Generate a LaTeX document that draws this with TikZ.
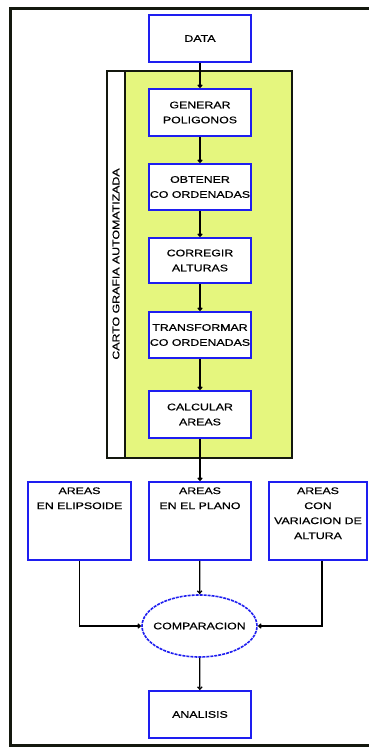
\documentclass[tikz,border=0pt]{standalone}
\usepackage{fontspec}
\usetikzlibrary{arrows.meta,shapes.geometric}
\newfontfamily\dfont[FakeStretch=1.3,FakeBold=0.6]{Liberation Sans}
\definecolor{boxblue}{RGB}{30,30,240}
\definecolor{poolgreen}{RGB}{229,246,126}
\definecolor{framedark}{RGB}{20,24,14}
\begin{document}
\begin{tikzpicture}[x=1pt,y=-1pt,
  every node/.style={font=\dfont\fontsize{9.5}{15}\selectfont, align=center, inner sep=0pt},
  stepbox/.style={draw=boxblue, line width=1.6pt, fill=white, minimum width=102pt, minimum height=47pt},
  tallbox/.style={draw=boxblue, line width=1.6pt, fill=white, minimum height=78pt},
  flow/.style={draw=black, line width=1.2pt, -{Straight Barb[length=2.5pt,width=4.5pt]}}]
\useasboundingbox (0,0) rectangle (368,747);
% outer frame
\draw[framedark, line width=3pt] (369,8) -- (10.5,8) -- (10.5,745) -- (369,745);
% pool
\draw[fill=poolgreen, draw=framedark, line width=1.3pt] (107,71) rectangle (292,458);
\draw[fill=white, draw=framedark, line width=1.3pt] (107,71) rectangle (125,458);
\node[rotate=90] (lane) at (116,264) {CARTO GRAFIA AUTOMATIZADA};
% boxes
\node[stepbox] (data) at (200,38.5) {DATA};
\node[stepbox] (gen) at (200,112.5) {GENERAR\\POLIGONOS};
\node[stepbox, minimum height=46pt] (obt) at (200,187) {OBTENER\\CO ORDENADAS};
\node[stepbox, minimum height=45pt] (cor) at (200,260.5) {CORREGIR\\ALTURAS};
\node[stepbox, minimum height=46pt] (tra) at (200,335) {TRANSFORMAR\\CO ORDENADAS};
\node[stepbox] (cal) at (200,414.5) {CALCULAR\\AREAS};
\node[tallbox, minimum width=103pt,
  label={[anchor=north, yshift=-6pt]north:AREAS\\EN ELIPSOIDE}] (elip) at (79.5,521) {};
\node[tallbox, minimum width=102pt,
  label={[anchor=north, yshift=-6pt]north:AREAS\\EN EL PLANO}] (plano) at (200,521) {};
\node[tallbox, minimum width=98pt,
  label={[anchor=north, yshift=-6pt]north:AREAS\\CON\\VARIACION DE\\ALTURA}] (alt) at (318,521) {};
\node[ellipse, draw=boxblue, line width=1.6pt, dash pattern=on 3pt off 1pt, fill=white,
  minimum width=115pt, minimum height=62pt,
  label={center:COMPARACION}] (comp) at (199.5,626) {};
\node[stepbox] (ana) at (200,714.5) {ANALISIS};
% connectors
\draw[flow] (data) -- (gen);
\draw[flow] (gen) -- (obt);
\draw[flow] (obt) -- (cor);
\draw[flow] (cor) -- (tra);
\draw[flow] (tra) -- (cal);
\draw[flow] (cal) -- (plano);
\draw[flow] (plano) -- (comp);
\draw[flow] (comp) -- (ana);
\draw[flow] (elip.south) |- (comp.west);
\draw[flow] (alt.south -| 322,0) |- (comp.east);
\end{tikzpicture}
\end{document}
